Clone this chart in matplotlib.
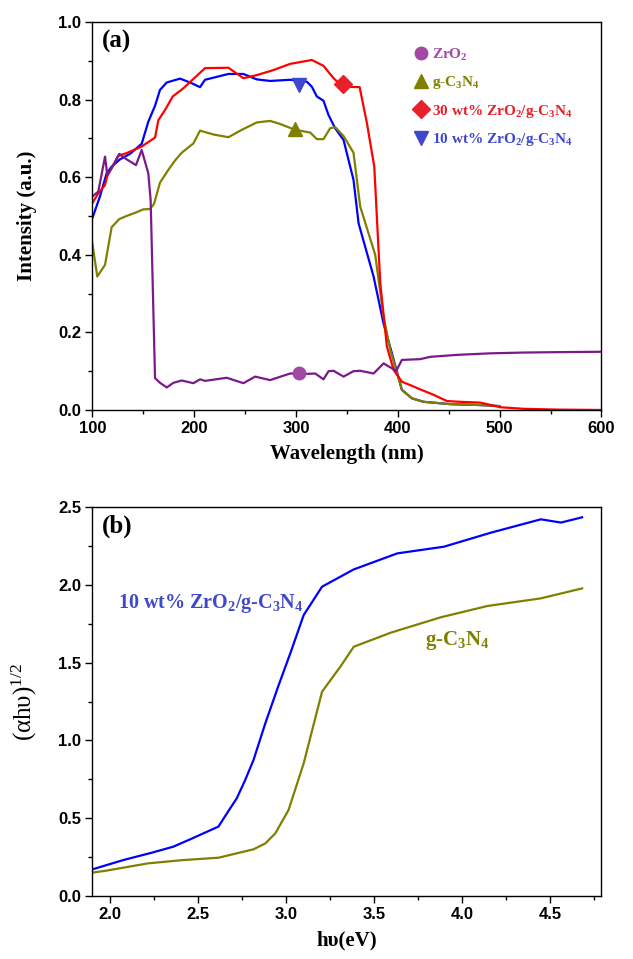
import matplotlib
matplotlib.use("Agg")
import matplotlib.pyplot as plt
from matplotlib.lines import Line2D
from matplotlib.ticker import MultipleLocator

plt.rcParams['mathtext.fontset'] = 'custom'
plt.rcParams['mathtext.rm'] = 'Liberation Serif:bold'
plt.rcParams['mathtext.it'] = 'Liberation Serif:bold'
plt.rcParams['mathtext.bf'] = 'Liberation Serif:bold'
plt.rcParams['mathtext.sf'] = 'Liberation Serif'  # used for the thin 1/2 exponent

# panel (a): UV-vis spectra
zro2_wl = [100, 105.9, 112.5, 114.7, 119, 126.5, 133.7, 142.9, 148.5, 155, 157.3, 161.6, 166.5,
           173.1, 179.6, 187.8, 199.3, 205.8, 210.7, 232, 248.4, 259.9, 274.6, 294.3, 310.7,
           318.9, 327, 332, 336.9, 346.7, 356.5, 363.1, 376.2, 386, 398.5, 404, 422, 432, 458,
           491, 523.7, 556.4, 599]
zro2_i = [0.55, 0.563, 0.653, 0.606, 0.623, 0.66, 0.646, 0.631, 0.67, 0.61, 0.541, 0.082, 0.070,
          0.058, 0.070, 0.076, 0.069, 0.079, 0.075, 0.083, 0.069, 0.086, 0.077, 0.094, 0.093,
          0.094, 0.079, 0.10, 0.101, 0.086, 0.10, 0.101, 0.094, 0.12, 0.101, 0.129, 0.131, 0.137,
          0.142, 0.146, 0.148, 0.149, 0.150]

gcn_wl = [100, 104.9, 112.5, 119, 126.5, 133.7, 142.9, 150.1, 156.7, 160.6, 166.5, 174.7, 181.3,
          187.8, 199.3, 205.8, 218.9, 233.7, 246.8, 261.5, 274.6, 284.5, 299.2, 314, 320.5, 327,
          333.6, 338.5, 346.7, 356.5, 363.1, 377.8, 386, 392.6, 404, 413.9, 425.4, 451.6, 477.8, 500]
gcn_i = [0.43, 0.344, 0.374, 0.471, 0.492, 0.50, 0.509, 0.517, 0.518, 0.531, 0.586, 0.619, 0.643,
         0.663, 0.687, 0.72, 0.71, 0.703, 0.722, 0.741, 0.745, 0.737, 0.722, 0.715, 0.698, 0.698,
         0.726, 0.729, 0.706, 0.663, 0.524, 0.40, 0.241, 0.155, 0.052, 0.030, 0.021, 0.015, 0.013, 0.010]

zr30_wl = [100, 105.9, 112.5, 114.7, 125.6, 133.7, 148.5, 161.6, 164.9, 171.4, 179, 189.4, 210.7,
           233.7, 248.4, 261.5, 277.9, 294.3, 315.6, 327, 336.9, 346.1, 362.5, 369.7, 376.9, 382.8,
           389.3, 395.9, 404, 412.2, 422.1, 435.2, 448.3, 461.4, 481.1, 500.7, 523.7, 556.4, 599]
zr30_i = [0.533, 0.558, 0.58, 0.603, 0.655, 0.662, 0.679, 0.702, 0.747, 0.773, 0.808, 0.829, 0.881,
          0.882, 0.855, 0.863, 0.876, 0.892, 0.902, 0.887, 0.855, 0.833, 0.832, 0.739, 0.627, 0.326,
          0.163, 0.103, 0.073, 0.064, 0.053, 0.039, 0.023, 0.021, 0.019, 0.007, 0.003, 0.001, 0.0]

# tail past 400 nm is hidden under the g-C3N4 curve in the original
zr10_wl = [100, 107.5, 114.1, 119, 127.2, 137, 148.5, 155, 161.6, 166.5, 173.1, 186.2, 196, 205.8,
           210.7, 233.7, 248.4, 261.5, 274.6, 294.3, 310.7, 315.6, 320.5, 327, 332, 338.5, 346.7,
           356.5, 361.5, 376.2, 386, 394.2, 404, 413.9, 425.4, 451.6, 477.8, 500]
zr10_i = [0.494, 0.55, 0.61, 0.627, 0.646, 0.66, 0.686, 0.743, 0.784, 0.825, 0.844, 0.854, 0.844,
          0.832, 0.851, 0.866, 0.866, 0.852, 0.848, 0.851, 0.846, 0.833, 0.808, 0.797, 0.76, 0.726,
          0.696, 0.593, 0.481, 0.344, 0.223, 0.146, 0.052, 0.030, 0.021, 0.015, 0.013, 0.010]

# one marker sits on each curve
mark_pts = {'zro2': (302.5, 0.094), 'gcn': (299.2, 0.723), 'zr30': (345.7, 0.840), 'zr10': (302.5, 0.838)}

# panel (b): Tauc plot
tauc_e_10 = [1.90, 2.076, 2.237, 2.36, 2.455, 2.616, 2.664, 2.72, 2.768, 2.815, 2.882, 2.958, 3.024,
             3.10, 3.204, 3.384, 3.631, 3.896, 4.162, 4.446, 4.56, 4.68]
tauc_v_10 = [0.171, 0.231, 0.278, 0.317, 0.364, 0.446, 0.531, 0.628, 0.746, 0.874, 1.11, 1.356, 1.56,
             1.806, 1.988, 2.099, 2.202, 2.245, 2.335, 2.421, 2.40, 2.434]
tauc_e_g = [1.90, 1.98, 2.218, 2.417, 2.616, 2.815, 2.882, 2.939, 3.014, 3.10, 3.204, 3.308, 3.384,
            3.593, 3.877, 4.143, 4.446, 4.68]
tauc_v_g = [0.15, 0.163, 0.21, 0.231, 0.246, 0.30, 0.338, 0.403, 0.553, 0.853, 1.313, 1.474, 1.602,
            1.692, 1.791, 1.864, 1.913, 1.977]

purple_line = '#7a1a8a'
purple_mark = '#a349a4'
olive = '#808000'
red = '#ff0000'
red_mark = '#e8202a'
blue = '#0000ff'
blue_mark = '#3f48cc'

serif = 'Liberation Serif'
sans = 'Liberation Sans'

fig = plt.figure(figsize=(6.33, 9.59), dpi=100)
ax1 = fig.add_axes([0.1458, 0.5725, 0.8044, 0.4046])
ax2 = fig.add_axes([0.1458, 0.0657, 0.8044, 0.4056])


def style_axis(ax):
    ax.tick_params(which='both', direction='out', top=False, right=False, width=1)
    ax.tick_params(which='major', length=5, pad=3)
    ax.tick_params(which='minor', length=3)
    for sp in ax.spines.values():
        sp.set_linewidth(1)
    for lab in ax.get_xticklabels() + ax.get_yticklabels():
        lab.set_fontfamily(sans)
        lab.set_fontweight('bold')
        lab.set_fontsize(12)


lw = 1.6
ax1.plot(zr10_wl, zr10_i, color=blue, lw=lw)
ax1.plot(gcn_wl, gcn_i, color=olive, lw=lw)
ax1.plot(zr30_wl, zr30_i, color=red, lw=lw)
ax1.plot(zro2_wl, zro2_i, color=purple_line, lw=lw)
ax1.plot(*mark_pts['zro2'], 'o', color=purple_mark, ms=9)
ax1.plot(*mark_pts['gcn'], '^', color=olive, ms=10)
ax1.plot(*mark_pts['zr30'], 'D', color=red_mark, ms=9)
ax1.plot(*mark_pts['zr10'], 'v', color=blue_mark, ms=10)

ax1.set_xlim(100, 600)
ax1.set_ylim(0, 1.0)
ax1.xaxis.set_major_locator(MultipleLocator(100))
ax1.xaxis.set_minor_locator(MultipleLocator(50))
ax1.yaxis.set_major_locator(MultipleLocator(0.2))
ax1.yaxis.set_minor_locator(MultipleLocator(0.1))
ax1.set_xlabel('Wavelength (nm)', fontfamily=serif, fontweight='bold', fontsize=15)
ax1.set_ylabel('Intensity (a.u.)', fontfamily=serif, fontweight='bold', fontsize=15)
ax1.xaxis.set_label_coords(0.5, -0.088)
ax1.yaxis.set_label_coords(-0.108, 0.5)
style_axis(ax1)
ax1.text(0.018, 0.95, '(a)', transform=ax1.transAxes, fontfamily=serif, fontweight='bold',
         fontsize=18, va='center', ha='left')

handles = [
    Line2D([], [], ls='none', marker='o', color=purple_mark, ms=9),
    Line2D([], [], ls='none', marker='^', color=olive, ms=10),
    Line2D([], [], ls='none', marker='D', color=red_mark, ms=9),
    Line2D([], [], ls='none', marker='v', color=blue_mark, ms=10),
]
labels = ['ZrO$_2$', 'g-C$_3$N$_4$', '30 wt% ZrO$_2$/g-C$_3$N$_4$', '10 wt% ZrO$_2$/g-C$_3$N$_4$']
leg = ax1.legend(handles, labels, loc='upper left', bbox_to_anchor=(0.62, 0.952), frameon=False,
                 handlelength=0.9, handletextpad=0.3, labelspacing=0.75, borderaxespad=0,
                 prop={'family': serif, 'weight': 'bold', 'size': 11},
                 labelcolor=[purple_mark, olive, red_mark, blue_mark])

ax2.plot(tauc_e_10, tauc_v_10, color=blue, lw=lw)
ax2.plot(tauc_e_g, tauc_v_g, color=olive, lw=lw)
ax2.set_xlim(1.9, 4.79)
ax2.set_ylim(0, 2.5)
ax2.xaxis.set_major_locator(MultipleLocator(0.5))
ax2.xaxis.set_minor_locator(MultipleLocator(0.25))
ax2.yaxis.set_major_locator(MultipleLocator(0.5))
ax2.yaxis.set_minor_locator(MultipleLocator(0.25))
ax2.set_xlabel('h\u03c5(eV)', fontfamily=serif, fontweight='bold', fontsize=15)
ax2.set_ylabel('(\u03b1h\u03c5)$^{\\mathsf{1/2}}$', fontfamily=serif, fontsize=18)
ax2.xaxis.set_label_coords(0.5, -0.088)
ax2.yaxis.set_label_coords(-0.105, 0.5)
style_axis(ax2)
ax2.text(0.018, 0.95, '(b)', transform=ax2.transAxes, fontfamily=serif, fontweight='bold',
         fontsize=18, va='center', ha='left')
ax2.text(2.045, 1.88, '10 wt% ZrO$_2$/g-C$_3$N$_4$', color=blue_mark, fontfamily=serif,
         fontweight='bold', fontsize=14.5, va='center')
ax2.text(3.786, 1.645, 'g-C$_3$N$_4$', color=olive, fontfamily=serif, fontweight='bold',
         fontsize=15, va='center')

fig.savefig('out.png', dpi=100)
